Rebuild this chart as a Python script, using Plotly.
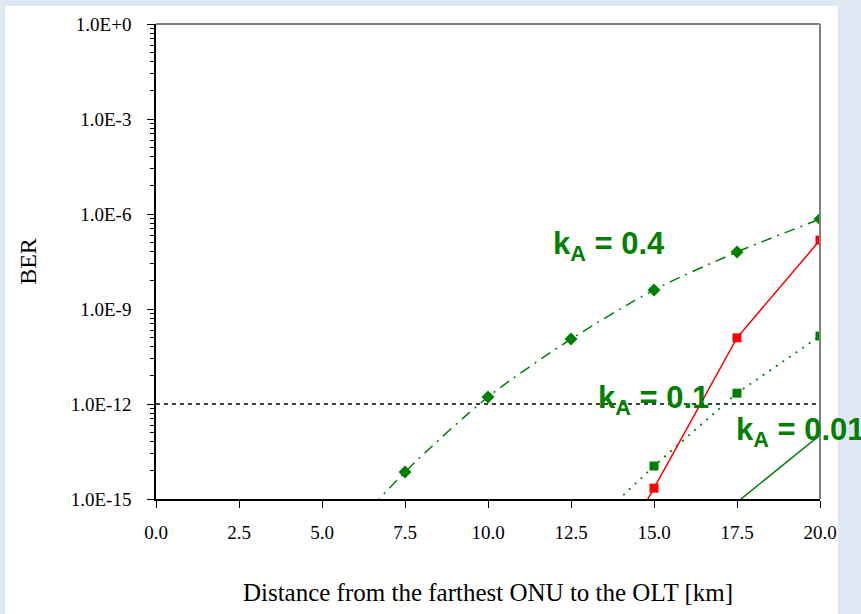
import math
import plotly.graph_objects as go

# ---- data ----
x_ka04 = [5.0, 7.5, 10.0, 12.5, 15.0, 17.5, 20.0]
ber_ka04 = [1.0e-17, 7.1e-15, 1.66e-12, 1.12e-10, 4.0e-9, 6.3e-8, 6.9e-7]

x_red = [12.5, 15.0, 17.5, 20.0]
ber_red = [5.6e-20, 2.2e-15, 1.23e-10, 1.5e-7]

x_ka01 = [12.5, 15.0, 17.5, 20.0]
ber_ka01 = [3.6e-17, 1.1e-14, 2.2e-12, 1.4e-10]

x_ka001 = [17.5, 20.0]
ber_ka001 = [7.9e-16, 1.05e-13]

x_thr = [0.0, 20.0]
ber_thr = [1e-12, 1e-12]

x_ticks = [0, 2.5, 5, 7.5, 10, 12.5, 15, 17.5, 20]
x_ticktext = ["0.0", "2.5", "5.0", "7.5", "10.0", "12.5", "15.0", "17.5", "20.0"]
y_ticks = [1e0, 1e-3, 1e-6, 1e-9, 1e-12, 1e-15]
y_ticktext = ["1.0E+0", "1.0E-3", "1.0E-6", "1.0E-9", "1.0E-12", "1.0E-15"]

labels = ["k<sub>A</sub> = 0.4", "k<sub>A</sub> = 0.1", "k<sub>A</sub> = 0.01"]
label_x = [11.9, 13.25, 17.4]
label_y = [1.0e-7, 1.3e-12, 1.3e-13]

GREEN = "#008000"
RED = "#ff0000"

minor_vals = []
for m in y_ticks[1:]:
    for k in range(2, 10):
        minor_vals.append(m * k ** 3)

fig = go.Figure()

fig.add_trace(go.Scatter(x=x_thr, y=ber_thr, mode="lines",
                         line=dict(color="black", width=1.5, dash="4px,4px"),
                         showlegend=False, hoverinfo="skip"))
fig.add_trace(go.Scatter(x=x_ka04, y=ber_ka04, mode="lines+markers",
                         line=dict(color=GREEN, width=1.5, dash="11px,6px,2px,6px",
                                   shape="spline", smoothing=0.8),
                         marker=dict(symbol="diamond", size=10, color=GREEN),
                         showlegend=False))
fig.add_trace(go.Scatter(x=x_ka01, y=ber_ka01, mode="lines+markers",
                         line=dict(color=GREEN, width=1.8, dash="2px,6px"),
                         marker=dict(symbol="square", size=9, color=GREEN),
                         showlegend=False))
fig.add_trace(go.Scatter(x=x_red, y=ber_red, mode="lines+markers",
                         line=dict(color=RED, width=1.5),
                         marker=dict(symbol="square", size=9, color=RED),
                         showlegend=False))
fig.add_trace(go.Scatter(x=x_ka001, y=ber_ka001, mode="lines+markers",
                         line=dict(color=GREEN, width=1.5),
                         marker=dict(symbol="triangle-up", size=[0, 9], color=GREEN),
                         showlegend=False))

for t, xx, yy in zip(labels, label_x, label_y):
    fig.add_annotation(x=xx, y=math.log10(yy), text="<b>" + t + "</b>", showarrow=False,
                       xanchor="left", yanchor="middle",
                       font=dict(family="Liberation Sans", size=31, color=GREEN))

W, H = 861, 614
L, R, T, B = 156, 41, 24, 115
pw, ph = W - L - R, H - T - B

def px_x(p):
    return (p - L) / pw

def px_y(p):
    return (H - B - p) / ph

shapes = [
    dict(type="rect", xref="paper", yref="paper", x0=px_x(5), x1=px_x(838),
         y0=px_y(614), y1=px_y(6), fillcolor="white", line=dict(width=0), layer="below"),
    dict(type="line", xref="paper", yref="paper", x0=0, x1=1, y0=1, y1=1,
         line=dict(color="#808080", width=2)),
    dict(type="line", xref="paper", yref="paper", x0=1, x1=1, y0=0, y1=1,
         line=dict(color="#808080", width=2)),
]

fig.update_layout(
    width=W, height=H,
    margin=dict(l=L, r=R, t=T, b=B),
    paper_bgcolor="#dde8f2",
    plot_bgcolor="white",
    shapes=shapes,
    font=dict(family="Liberation Serif", color="black"),
)

fig.update_xaxes(range=[0, 20], tickvals=x_ticks, ticktext=x_ticktext,
                 showgrid=False, zeroline=False, showline=True, linecolor="black", linewidth=1.5,
                 ticks="outside", ticklen=7, tickcolor="black", tickwidth=1,
                 tickfont=dict(size=19), ticklabelstandoff=8,
                 title=dict(text="Distance from the farthest ONU to the OLT [km]",
                            font=dict(size=25), standoff=42))
fig.update_yaxes(type="log", range=[-15, 0], tickvals=y_ticks, ticktext=y_ticktext,
                 showgrid=False, zeroline=False, showline=True, linecolor="black", linewidth=1.5,
                 ticks="outside", ticklen=7, tickcolor="black", tickwidth=1,
                 tickfont=dict(size=19), ticklabelstandoff=12,
                 minor=dict(tickvals=minor_vals, ticks="outside", ticklen=4,
                            tickcolor="black", tickwidth=1, showgrid=False),
                 title=dict(text="BER", font=dict(size=24), standoff=27))

fig.write_html("out.html")
